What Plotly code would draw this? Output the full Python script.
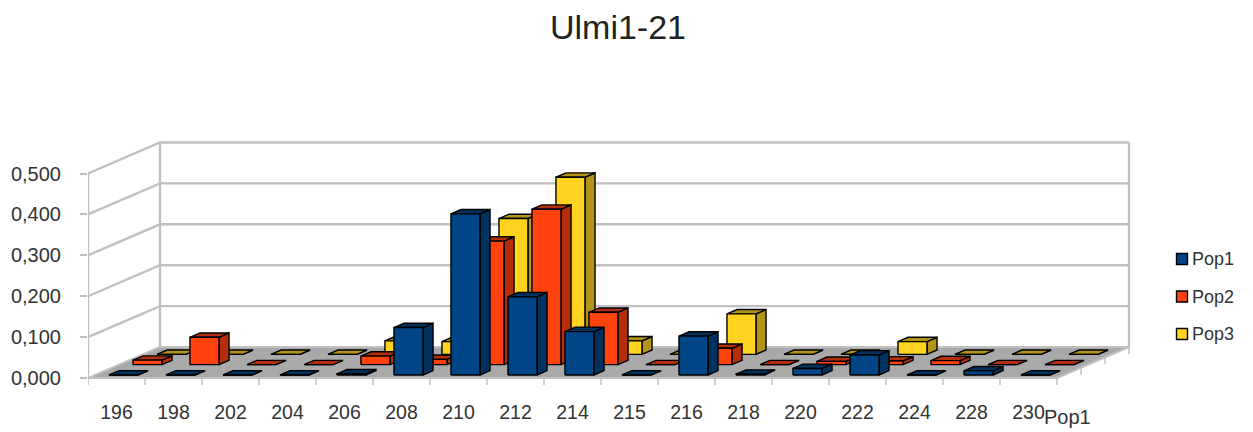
import plotly.graph_objects as go

# Allele size classes along the front edge and frequencies per population
categories = ["196", "198", "202", "204", "206", "208", "210", "212", "214",
              "215", "216", "218", "220", "222", "224", "228", "230"]
pop1 = [0, 0, 0, 0, 0.003, 0.116, 0.394, 0.191, 0.106, 0, 0.095, 0.002, 0.016, 0.049, 0, 0.01, 0]
pop2 = [0.011, 0.067, 0, 0, 0.021, 0.013, 0.302, 0.38, 0.128, 0, 0.04, 0, 0.008, 0.009, 0.01, 0, 0]
pop3 = [0, 0, 0, 0, 0.033, 0.031, 0.332, 0.433, 0.033, 0, 0.099, 0, 0, 0.031, 0, 0, 0]
series_names = ["Pop1", "Pop2", "Pop3"]
value_ticks = [0, 0.1, 0.2, 0.3, 0.4, 0.5]
value_labels = ["0,000", "0,100", "0,200", "0,300", "0,400", "0,500"]

FRONT = ["#004586", "#ff420e", "#ffd320"]
SHADE = ["#00315f", "#b32e0a", "#b39416"]
WALL = "#c0c0c0"
FLOOR = "#a9a9a9"
TEXT = "#333333"
FONT = "Liberation Sans"

W, H = 1253, 432
LEFT, BOTTOM = 88, 44
BASE_Y = 378  # pixel row of value 0 on the front edge
CAT_PX = 57.0
VAL_PX = 409.0
N = len(categories)

# Oblique projection: depth runs 0..1 from the front edge to the back wall
DEPTH_X = 72 / CAT_PX
DEPTH_Y = 31 / VAL_PX


def proj(x, v, d):
    return x + d * DEPTH_X, v + d * DEPTH_Y


def path(points):
    pts = [proj(*p) for p in points]
    return [p[0] for p in pts] + [None], [p[1] for p in pts] + [None]


def polygons(polys):
    xs, ys = [], []
    for poly in polys:
        px, py = path(poly + poly[:1])
        xs += px
        ys += py
    return xs, ys


def segments(segs):
    xs, ys = [], []
    for seg in segs:
        px, py = path(seg)
        xs += px
        ys += py
    return xs, ys


fig = go.Figure()

# Floor
fx, fy = polygons([[(0, 0, 0), (N, 0, 0), (N, 0, 1), (0, 0, 1)]])
fig.add_trace(go.Scatter(x=fx, y=fy, mode="lines", fill="toself", fillcolor=FLOOR,
                         line=dict(color=WALL, width=2), hoverinfo="skip", showlegend=False,
                         cliponaxis=False))

# Walls and gridlines
wall_segs = [[(0, 0, 0), (0, 0.5, 0)], [(0, 0, 1), (0, 0.5, 1)], [(N, 0, 1), (N, 0.5, 1)]]
for tick in value_ticks:
    if tick > 0:
        wall_segs.append([(0, tick, 0), (0, tick, 1), (N, tick, 1)])
wx, wy = segments(wall_segs)
fig.add_trace(go.Scatter(x=wx, y=wy, mode="lines", line=dict(color=WALL, width=2.4),
                         hoverinfo="skip", showlegend=False, cliponaxis=False))

# Category and depth ticks below the floor edges
tick_len = 7 / VAL_PX
tick_segs = [[(i, 0, 0), (i, -tick_len, 0)] for i in range(N + 1)]
tick_segs += [[(N, 0, d), (N, -tick_len, d)] for d in (1 / 3, 2 / 3, 1)]
dx, dy = segments(tick_segs)
fig.add_trace(go.Scatter(x=dx, y=dy, mode="lines", line=dict(color=WALL, width=1.5),
                         hoverinfo="skip", showlegend=False, cliponaxis=False))

# Bars, rear row first so that nearer rows overlap it
half_width = 14.5 / CAT_PX
rows = [pop1, pop2, pop3]
for row in (2, 1, 0):
    d0 = (row + 0.29) / 3
    d1 = (row + 0.71) / 3
    sides, tops, fronts = [], [], []
    for i, v in enumerate(rows[row]):
        x0, x1 = i + 0.5 - half_width, i + 0.5 + half_width
        sides.append([(x1, 0, d0), (x1, 0, d1), (x1, v, d1), (x1, v, d0)])
        tops.append([(x0, v, d0), (x1, v, d0), (x1, v, d1), (x0, v, d1)])
        fronts.append([(x0, 0, d0), (x1, 0, d0), (x1, v, d0), (x0, v, d0)])
    for polys, colour in ((sides, SHADE[row]), (tops, SHADE[row]), (fronts, FRONT[row])):
        px, py = polygons(polys)
        fig.add_trace(go.Scatter(x=px, y=py, mode="lines", fill="toself", fillcolor=colour,
                                 line=dict(color="#000000", width=1.4), name=series_names[row],
                                 hoverinfo="skip", showlegend=False, cliponaxis=False))

# Key on the right
shapes = []
annotations = []
plot_w = W - LEFT
plot_h = H - BOTTOM
for name, colour, y_px in zip(series_names, FRONT, (259, 296.5, 334)):
    shapes.append(dict(type="rect", xref="paper", yref="paper",
                       x0=(1176.5 - LEFT) / plot_w, x1=(1187.5 - LEFT) / plot_w,
                       y0=(H - BOTTOM - y_px - 5.5) / plot_h, y1=(H - BOTTOM - y_px + 5.5) / plot_h,
                       fillcolor=colour, line=dict(color="#000000", width=1.4)))
    annotations.append(dict(text=name, xref="paper", yref="paper", showarrow=False,
                            x=(1190 - LEFT) / plot_w, y=(H - BOTTOM - y_px) / plot_h,
                            xanchor="left", yanchor="middle",
                            font=dict(family=FONT, size=18, color=TEXT)))

# Name of the depth axis
annotations.append(dict(text="Pop1", xref="paper", yref="paper", showarrow=False,
                        x=(1067 - LEFT) / plot_w, y=(H - BOTTOM - 417) / plot_h,
                        xanchor="center", yanchor="middle",
                        font=dict(family=FONT, size=20, color=TEXT)))

fig.update_layout(
    width=W, height=H, autosize=False,
    margin=dict(l=LEFT, r=0, t=0, b=BOTTOM),
    paper_bgcolor="white", plot_bgcolor="white",
    showlegend=False,
    title=dict(text="Ulmi1-21", x=618 / W, y=1 - 27 / H, xanchor="center", yanchor="middle",
               font=dict(family=FONT, size=34, color="#222222")),
    xaxis=dict(range=[0, plot_w / CAT_PX], showgrid=False, zeroline=False, showline=False,
               tickmode="array", tickvals=[i + 0.5 for i in range(N)], ticktext=categories,
               ticks="outside", ticklen=0, ticklabelstandoff=7,
               tickfont=dict(family=FONT, size=19.5, color=TEXT)),
    yaxis=dict(range=[(BASE_Y - plot_h) / VAL_PX, BASE_Y / VAL_PX],
               showgrid=False, zeroline=False, showline=False,
               tickmode="array", tickvals=value_ticks, ticktext=value_labels,
               ticks="outside", ticklen=7, tickwidth=1.5, tickcolor=WALL, ticklabelstandoff=15,
               tickfont=dict(family=FONT, size=20, color=TEXT)),
    shapes=shapes,
    annotations=annotations,
)

fig.write_html("out.html")
